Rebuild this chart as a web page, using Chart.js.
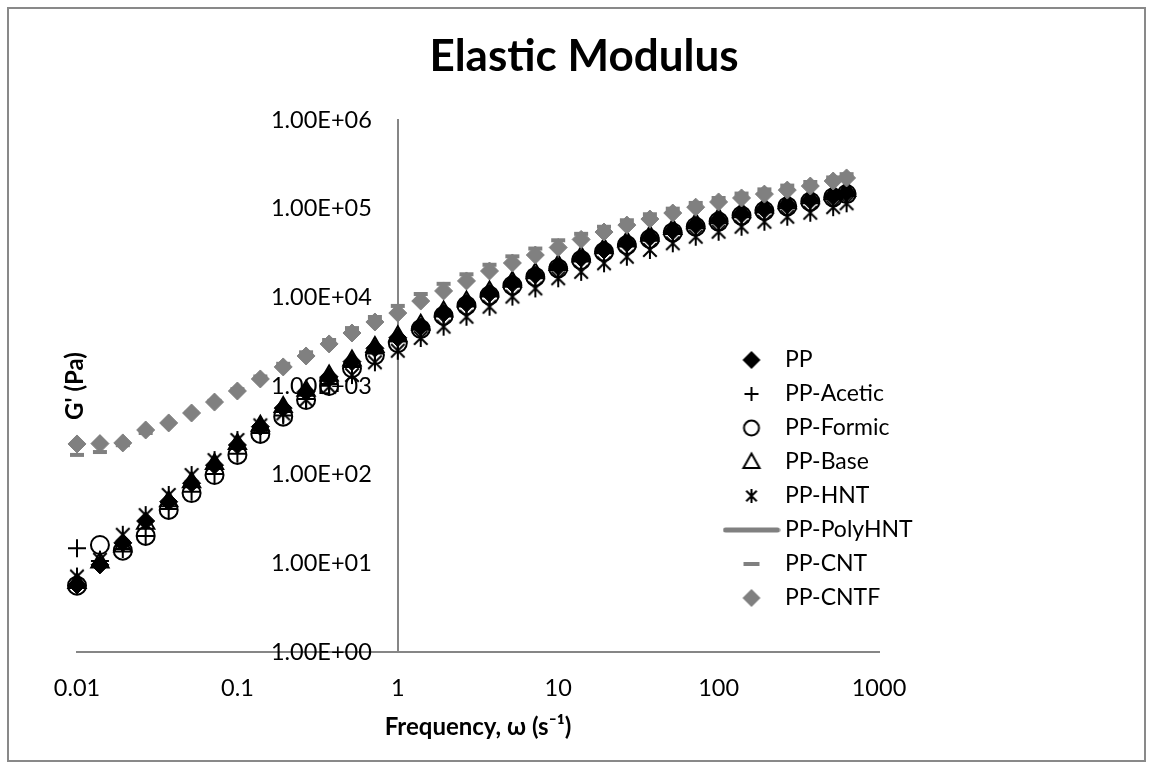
<!DOCTYPE html>
<html><head><meta charset="utf-8">
<script src="https://cdn.jsdelivr.net/npm/chart.js@4.4.0/dist/chart.umd.min.js"></script>
<style>html,body{margin:0;padding:0;background:#fff;}canvas{display:block;}</style>
</head><body>
<canvas id="c" width="1153" height="769"></canvas>
<script>
// ---- data ----
const frequency = [0.01, 0.0139, 0.0193, 0.0268, 0.0373, 0.0518, 0.072, 0.1, 0.139, 0.193, 0.268, 0.373, 0.518, 0.72, 1, 1.39, 1.93, 2.68, 3.73, 5.18, 7.2, 10, 13.9, 19.3, 26.8, 37.3, 51.8, 72, 100, 139, 193, 268, 373, 518, 628];
const ppValues = [5.7, 9.6, 17, 30, 49.5, 80, 128, 216, 348, 563, 862, 1270, 1880, 2660, 3500, 4670, 6610, 8570, 11100, 14400, 17900, 22200, 27600, 34200, 40700, 47500, 56400, 65400, 74500, 87100, 98400, 110000, 125000, 139000, 151000];
const aceticValues = [14.8, 10.6, 14.5, 20.4, 41, 64, 102, 172, 295, 465, 715, 1050, 1640, 2330, 3200, 4550, 6450, 8350, 10800, 14000, 17400, 21600, 26900, 33300, 39600, 46300, 54900, 63600, 72600, 84900, 96000, 107500, 122000, 136000, 148000];
const formicValues = [5.6, 16.1, 13.9, 20.4, 40, 62, 99, 167, 288, 451, 695, 1000, 1590, 2230, 3050, 4400, 6200, 8100, 10500, 13600, 17000, 21200, 26300, 32600, 38800, 45500, 54000, 62500, 71500, 83500, 94500, 106000, 120000, 134000, 146000];
const baseValues = [6.0, 10.2, 15.5, 28, 50, 82, 132, 222, 356, 580, 885, 1310, 1940, 2750, 3650, 4900, 6900, 8950, 11600, 15000, 18700, 23200, 28800, 35700, 42500, 49600, 58900, 68300, 77800, 91000, 103000, 115000, 131000, 145000, 158000];
const hntValues = [7.1, 11, 21, 35, 59, 99, 146, 246, 360, 490, 700, 982, 1330, 1850, 2500, 3480, 4670, 6040, 7840, 10200, 12600, 16400, 19400, 24200, 28700, 34200, 40700, 48300, 55000, 62600, 71300, 81100, 90000, 104000, 115000];
const polyHntValues = [];
const cntValues = [167, 180, 215, 295, 380, 500, 680, 920, 1280, 1780, 2400, 3300, 4500, 6000, 8000, 10900, 14200, 18200, 23300, 29000, 35500, 44000, 52000, 62500, 74000, 86500, 100000, 116000, 132000, 148000, 165000, 182000, 200000, 225000, 245000];
const cntfValues = [222, 224, 228, 319, 383, 496, 659, 878, 1200, 1640, 2180, 2980, 3960, 5270, 6650, 9080, 11800, 15300, 19800, 24400, 30000, 36500, 45000, 54500, 65300, 76400, 89300, 104000, 119000, 132000, 146000, 162000, 180000, 205000, 222000];

const seriesNames = ['PP', 'PP-Acetic', 'PP-Formic', 'PP-Base', 'PP-HNT', 'PP-PolyHNT', 'PP-CNT', 'PP-CNTF'];
const xTickValues = [0.01, 0.1, 1, 10, 100, 1000];
const xTickLabels = ['0.01', '0.1', '1', '10', '100', '1000'];
const yTickValues = [1, 10, 100, 1000, 10000, 100000, 1000000];
const yTickLabels = ['1.00E+00', '1.00E+01', '1.00E+02', '1.00E+03', '1.00E+04', '1.00E+05', '1.00E+06'];

const BLACK = '#000000';
const GRAY = '#808080';
const AXIS = '#868686';

function icon(kind, color, size) {
  const c = document.createElement('canvas');
  let w = 24, h = 24;
  if (kind === 'longline') { w = 58; h = 8; }
  c.width = w; c.height = h;
  const g = c.getContext('2d');
  const cx = w / 2, cy = h / 2;
  g.strokeStyle = color; g.fillStyle = color; g.lineWidth = 2;
  g.beginPath();
  if (kind === 'diamond') {
    g.moveTo(cx, cy - size); g.lineTo(cx + size, cy); g.lineTo(cx, cy + size); g.lineTo(cx - size, cy); g.closePath(); g.fill();
  } else if (kind === 'plus') {
    g.moveTo(cx - size, cy); g.lineTo(cx + size, cy); g.moveTo(cx, cy - size); g.lineTo(cx, cy + size); g.stroke();
  } else if (kind === 'circle') {
    g.arc(cx, cy, size, 0, Math.PI * 2); g.stroke();
  } else if (kind === 'triangle') {
    g.moveTo(cx, cy - size); g.lineTo(cx + size * 0.95, cy + size * 0.7); g.lineTo(cx - size * 0.95, cy + size * 0.7); g.closePath(); g.stroke();
  } else if (kind === 'asterisk') {
    const d = size * 0.75;
    g.moveTo(cx, cy - size); g.lineTo(cx, cy + size);
    g.moveTo(cx - d, cy - d); g.lineTo(cx + d, cy + d);
    g.moveTo(cx + d, cy - d); g.lineTo(cx - d, cy + d); g.stroke();
  } else if (kind === 'dash') {
    g.fillRect(cx - size, cy - 2, size * 2, 4);
  } else if (kind === 'longline') {
    g.lineWidth = 5; g.lineCap = 'round';
    g.moveTo(3, cy); g.lineTo(w - 3, cy); g.stroke();
  }
  return c;
}

const hntPoint = icon('asterisk', BLACK, 9);
const legendIcons = [
  icon('diamond', BLACK, 9),
  icon('plus', BLACK, 7),
  icon('circle', BLACK, 7.5),
  icon('triangle', BLACK, 8.5),
  icon('asterisk', BLACK, 7),
  icon('longline', GRAY, 0),
  icon('dash', GRAY, 8),
  icon('diamond', GRAY, 9)
];

function pts(vals) { return vals.map((v, i) => ({ x: frequency[i], y: v })); }

const datasets = [
  { label: seriesNames[0], data: pts(ppValues), pointStyle: 'rectRot', pointRadius: 9, backgroundColor: BLACK, borderColor: BLACK, borderWidth: 1, order: 8 },
  { label: seriesNames[1], data: pts(aceticValues), pointStyle: 'cross', pointRadius: 9, backgroundColor: BLACK, borderColor: BLACK, borderWidth: 2, order: 7 },
  { label: seriesNames[2], data: pts(formicValues), pointStyle: 'circle', pointRadius: 9, backgroundColor: 'rgba(0,0,0,0)', borderColor: BLACK, borderWidth: 2, order: 6 },
  { label: seriesNames[3], data: pts(baseValues), pointStyle: 'triangle', pointRadius: 10, backgroundColor: 'rgba(0,0,0,0)', borderColor: BLACK, borderWidth: 2, order: 5 },
  { label: seriesNames[4], data: pts(hntValues), pointStyle: hntPoint, pointRadius: 9, backgroundColor: BLACK, borderColor: BLACK, borderWidth: 2, order: 4 },
  { label: seriesNames[5], data: pts(polyHntValues), pointStyle: 'line', pointRadius: 9, backgroundColor: GRAY, borderColor: GRAY, borderWidth: 4, order: 3 },
  { label: seriesNames[6], data: pts(cntValues), pointStyle: 'line', pointRadius: 7, backgroundColor: GRAY, borderColor: GRAY, borderWidth: 4, order: 2 },
  { label: seriesNames[7], data: pts(cntfValues), pointStyle: 'rectRot', pointRadius: 9, backgroundColor: GRAY, borderColor: GRAY, borderWidth: 1, order: 1 }
];
datasets.forEach(d => { d.showLine = false; d.clip = false; d.pointHoverRadius = d.pointRadius; });

const frame = {
  id: 'frame',
  beforeDraw(chart) {
    const ctx = chart.ctx;
    ctx.save();
    ctx.fillStyle = '#ffffff';
    ctx.fillRect(0, 0, chart.width, chart.height);
    ctx.strokeStyle = '#898989';
    ctx.lineWidth = 2;
    ctx.strokeRect(8, 8, 1137, 753);
    ctx.restore();
    const t = chart.titleBlock;
    if (t) { t.left = 0; t.right = 1168; t.width = 1168; }
    const lg = chart.legend;
    if (lg) { lg.left = 718.5; lg.top = 337.5; lg.width = 220; lg.height = 320; lg.right = 938.5; lg.bottom = 657.5; }
    // y-axis crosses at x = 1: keep a gap between the tick labels and the axis line
    const ys = chart.scales.y;
    const items = ys.getLabelItems(chart.chartArea);
    if (items && !items._shifted) {
      items.forEach(it => {
        if (it.options && it.options.translation) it.options.translation[0] -= 26;
      });
      items._shifted = true;
    }
  },
  afterDraw(chart) {
    const ctx = chart.ctx;
    ctx.save();
    ctx.translate(75, 386);
    ctx.rotate(-Math.PI / 2);
    ctx.font = 'bold 24px Lato';
    ctx.fillStyle = '#000';
    ctx.textAlign = 'center';
    ctx.textBaseline = 'middle';
    ctx.fillText("G' (Pa)", 0, 0);
    ctx.restore();
  }
};

Chart.defaults.font.family = 'Lato';
Chart.defaults.color = '#000';

new Chart(document.getElementById('c'), {
  type: 'scatter',
  data: { datasets },
  options: {
    responsive: false,
    animation: false,
    events: [],
    layout: { padding: { left: 77, right: 274, top: 0, bottom: 10 } },
    scales: {
      x: {
        type: 'logarithmic', min: 0.01, max: 1000, position: 'bottom',
        grid: { display: false, drawTicks: false },
        border: { display: true, color: AXIS, width: 2 },
        afterBuildTicks: s => { s.ticks = xTickValues.map(v => ({ value: v })); },
        afterFit: s => { s.height = 107; },
        ticks: { autoSkip: false, maxRotation: 0, padding: 22, font: { size: 23.5 }, color: '#000', callback: (v, i) => xTickLabels[i] },
        title: { display: true, text: 'Frequency, ω (s⁻¹)', font: { size: 24, weight: 'bold' }, color: '#000', padding: { top: 0, bottom: 17 } }
      },
      y: {
        type: 'logarithmic', axis: 'y', min: 1, max: 1000000, position: { x: 1 },
        grid: { display: false, drawTicks: false },
        border: { display: true, color: AXIS, width: 2 },
        afterBuildTicks: s => { s.ticks = yTickValues.map(v => ({ value: v })); },
        ticks: { autoSkip: false, padding: 0, font: { size: 23.5 }, color: '#000', callback: (v, i) => yTickLabels[i] }
      }
    },
    plugins: {
      tooltip: { enabled: false },
      title: { display: true, text: 'Elastic Modulus', color: '#000', font: { size: 44, weight: 'bold' }, padding: { top: 30.6, bottom: 36.6 } },
      legend: {
        display: true, position: 'chartArea', align: 'start',
        labels: {
          usePointStyle: true, pointStyleWidth: 44, boxHeight: 23, padding: 11,
          font: { size: 23 }, color: '#000',
          sort: (a, b) => a.datasetIndex - b.datasetIndex,
          generateLabels: chart => {
            const items = Chart.defaults.plugins.legend.labels.generateLabels(chart);
            items.forEach(it => { it.pointStyle = legendIcons[it.datasetIndex]; it.text = seriesNames[it.datasetIndex]; });
            return items;
          }
        }
      }
    }
  },
  plugins: [frame]
});
</script>
</body></html>
